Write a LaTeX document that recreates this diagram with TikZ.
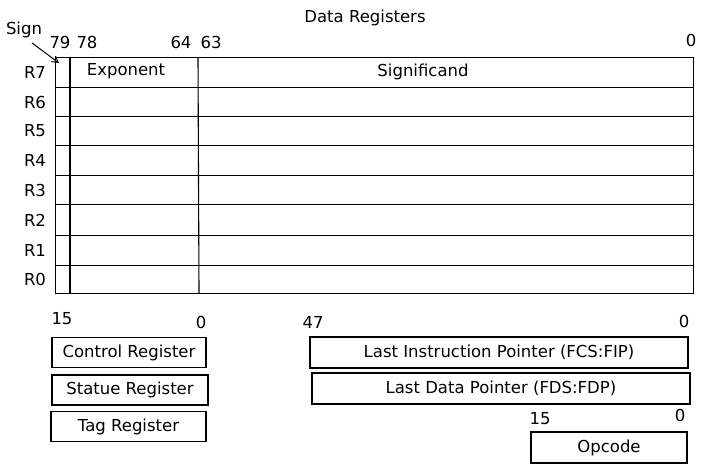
\documentclass[tikz,border=0pt]{standalone}
\usepackage{fontspec}
\setmainfont{DejaVu Sans}
\usetikzlibrary{arrows.meta}
\begin{document}
\begin{tikzpicture}[x=1pt,y=-1pt,
  line width=1.1pt,
  lbl/.style={font=\fontsize{16.5}{18}\selectfont, inner sep=0pt},
  regbox/.style={draw, rectangle, inner sep=0pt, font=\fontsize{16.5}{18}\selectfont},
  rowbox/.style={draw, rectangle, inner sep=0pt, minimum width=638pt},
  divline/.style={line width=1.1pt}]
\useasboundingbox[fill=white] (0,0) rectangle (708,472);

% title
\node[lbl] (title) at (365,18) {Data Registers};

% rows
\foreach \name/\top/\bot in {r7/57/87, r6/87/116, r5/116/145, r4/145/175, r3/175/204, r2/204/235, r1/235/265, r0/265/293}{
  \node[rowbox, minimum height={\bot-\top}, anchor=north west] (\name) at (55,\top) {};
}
\foreach \name/\lab in {r7/R7, r6/R6, r5/R5, r4/R4, r3/R3, r2/R2, r1/R1, r0/R0}{
  \node[lbl] (l\name) at ([xshift=-20pt]\name.west) {\lab};
}
% dividers
\coordinate (s1) at (70,57);
\coordinate (s2) at (70,293);
\coordinate (e1) at (198,57);
\coordinate (e2) at (199,293);
\draw[divline] (s1) -- (s2);
\draw[divline] (e1) -- (e2);

\node[lbl] (exp) at (126,71) {Exponent};
\node[lbl] (sig) at (423,72) {Significand};

% bit labels
\node[lbl] (b79) at (60,42) {79};
\node[lbl] (b78) at (87,42) {78};
\node[lbl] (b64) at (181,42) {64};
\node[lbl] (b63) at (211,42) {63};
\node[lbl] (b0) at (691,40) {0};

% sign
\node[lbl] (sign) at (24,30) {Sign};
\coordinate (signtip) at (59,63);
\draw[-{Straight Barb[length=6pt,width=7pt]}, line width=1pt] (32,43) -- (signtip);

% bottom left
\node[lbl] (c15) at (62,319) {15};
\node[lbl] (c0) at (201,322) {0};
\node[regbox, minimum width=154pt, minimum height=30pt] (ctrl) at (129,352.5) {Control Register};
\node[regbox, minimum width=156pt, minimum height=30pt] (stat) at (130,390) {Statue Register};
\node[regbox, minimum width=155pt, minimum height=30pt] (tag) at (128.5,426.5) {Tag Register};

% bottom right
\node[lbl] (p47) at (313,322) {47};
\node[lbl] (p0) at (684,321) {0};
\node[regbox, minimum width=378pt, minimum height=31pt] (lip) at (499,352.5) {Last Instruction Pointer (FCS:FIP)};
\node[regbox, minimum width=378pt, minimum height=31pt] (ldp) at (501,388.5) {Last Data Pointer (FDS:FDP)};
\node[lbl] (o15) at (540,419) {15};
\node[lbl] (o0) at (680,415) {0};
\node[regbox, minimum width=156pt, minimum height=31pt] (opc) at (609,447.5) {Opcode};
\end{tikzpicture}
\end{document}
